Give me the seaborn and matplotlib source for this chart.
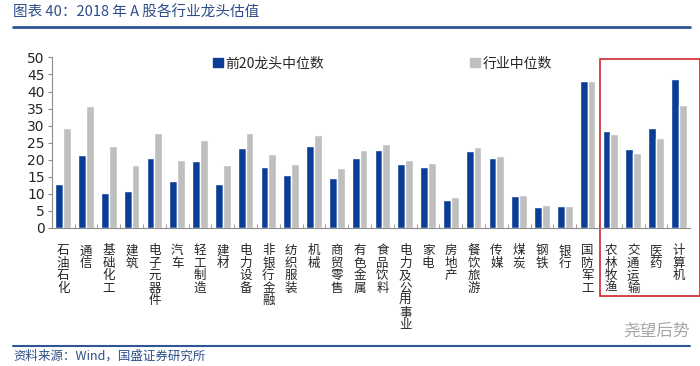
import matplotlib
matplotlib.use("Agg")
import matplotlib.pyplot as plt
import matplotlib.transforms as mtransforms
from matplotlib.patches import Rectangle
from matplotlib.lines import Line2D
from matplotlib.ticker import MultipleLocator, FixedLocator
import seaborn as sns
import pandas as pd

industries = ["石油石化", "通信", "基础化工", "建筑", "电子元器件", "汽车", "轻工制造",
              "建材", "电力设备", "非银行金融", "纺织服装", "机械", "商贸零售", "有色金属",
              "食品饮料", "电力及公用事业", "家电", "房地产", "餐饮旅游", "传媒", "煤炭",
              "钢铁", "银行", "国防军工", "农林牧渔", "交通运输", "医药", "计算机"]
top20_median = [12.8, 21.2, 10.3, 10.8, 20.6, 13.6, 19.6, 12.7, 23.5, 17.9, 15.5, 24.0,
                14.5, 20.4, 22.8, 18.6, 17.7, 8.0, 22.6, 20.4, 9.2, 6.2, 6.5, 43.1,
                28.4, 23.2, 29.4, 43.7]
industry_median = [29.2, 35.6, 24.0, 18.5, 27.7, 20.0, 25.8, 18.5, 27.7, 21.6, 18.7, 27.3,
                   17.6, 22.9, 24.6, 20.0, 19.1, 9.1, 23.6, 21.0, 9.6, 6.6, 6.5, 43.1,
                   27.5, 21.8, 26.4, 36.0]
series_names = ["前20龙头中位数", "行业中位数"]
colors = ["#0B3C96", "#BFBFBF"]

sns.set_style("white")
plt.rcParams['font.family'] = ['Noto Sans CJK SC', 'DejaVu Sans']

df = pd.DataFrame({
    "industry": industries * 2,
    "value": top20_median + industry_median,
    "series": [series_names[0]] * len(industries) + [series_names[1]] * len(industries),
})

fig = plt.figure(figsize=(7, 3.66), dpi=100)
ax = fig.add_axes([0.074, 0.378, 0.912, 0.465])
sns.barplot(data=df, x="industry", y="value", hue="series", palette=colors,
            width=0.68, saturation=1, ax=ax, legend=False)

ax.set_ylim(0, 50)
ax.set_xlim(-0.5, len(industries) - 0.5)
ax.yaxis.set_major_locator(MultipleLocator(5))
ax.set_xlabel("")
ax.set_ylabel("")
for s in ["top", "right"]:
    ax.spines[s].set_visible(False)
for s in ["left", "bottom"]:
    ax.spines[s].set_color("#8C8C8C")
    ax.spines[s].set_linewidth(0.8)

ax.tick_params(axis="y", labelsize=10, length=3, color="#8C8C8C", pad=2, left=True)
for t in ax.get_yticklabels():
    t.set_family("DejaVu Sans")
ax.set_xticks(range(len(industries)))
ax.set_xticklabels(["\n".join(n) for n in industries], fontsize=9, linespacing=0.95,
                   va="top")
ax.tick_params(axis="x", length=0, pad=12)
ax.xaxis.set_minor_locator(FixedLocator([i + 0.5 for i in range(len(industries) - 1)]))
ax.tick_params(axis="x", which="minor", direction="in", length=3, color="#8C8C8C",
               bottom=True)

# legend
handles = [Rectangle((0, 0), 1, 1, color=c) for c in colors]
ax.legend(handles, series_names, ncol=2, loc="center", bbox_to_anchor=(0.518, 0.965),
          frameon=False, fontsize=10, handlelength=0.7, handleheight=0.7,
          handletextpad=0.2, columnspacing=10.5)

# red highlight box
trans = mtransforms.blended_transform_factory(ax.transData, fig.transFigure)
ax.add_patch(Rectangle((23.55, 1 - 296 / 366), 27.92 - 23.55, (296 - 59) / 366,
                       transform=trans, fill=False, edgecolor="#D0262C", lw=1.2,
                       clip_on=False))

# header and footer
fig.text(0.019, 1 - 13 / 366, "图表 40：2018 年 A 股各行业龙头估值", fontsize=10.5,
         color="#2C4E8A", style="italic", va="center", ha="left")
fig.add_artist(Line2D([0.019, 0.986], [1 - 27 / 366] * 2, color="#2F5597", lw=2))
fig.add_artist(Line2D([0.019, 0.986], [1 - 346 / 366] * 2, color="#2F5597", lw=1.5))
fig.text(0.019, 1 - 356 / 366, "资料来源：Wind，国盛证券研究所", fontsize=9,
         color="#2C4E8A", style="italic", va="center", ha="left")
fig.text(0.985, 1 - 331 / 366, "尧望后势", fontsize=12, color="#A6A6A6",
         va="center", ha="right")

fig.savefig("out.png", dpi=100)
